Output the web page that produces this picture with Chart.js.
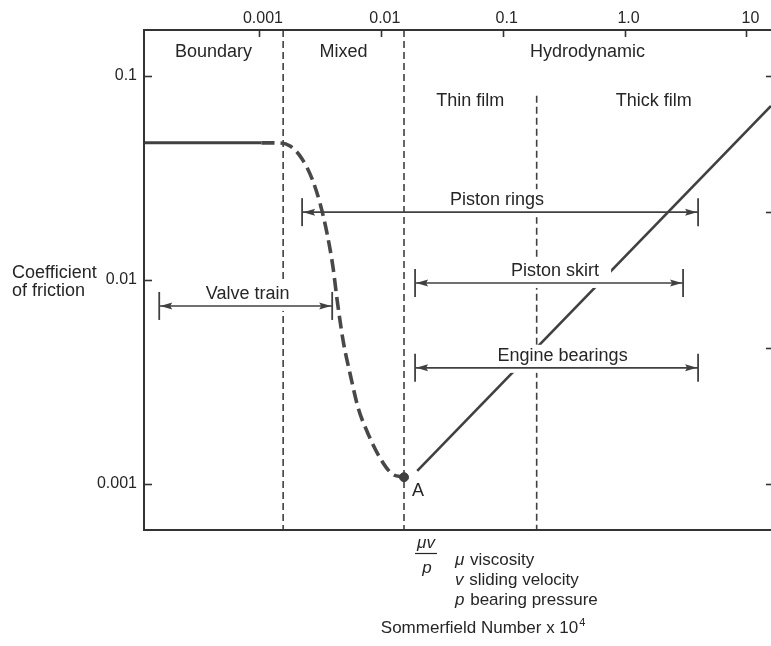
<!DOCTYPE html>
<html>
<head>
<meta charset="utf-8">
<title>Lubrication regimes - coefficient of friction vs Sommerfield number</title>
<script src="https://cdn.jsdelivr.net/npm/chart.js@4/dist/chart.umd.min.js"></script>
<style>
  html, body { margin: 0; padding: 0; background: #ffffff; overflow: hidden; }
  #wrap { width: 771px; height: 646px; position: relative; }
</style>
</head>
<body>
<div id="wrap"><canvas id="c" width="771" height="646"></canvas></div>
<script>
// ---- Axes: Sommerfield number (x 10^4) and coefficient of friction, both logarithmic
const xTickValues = [0.001, 0.01, 0.1, 1, 10];
const xTickLabels = ['0.001', '0.01', '0.1', '1.0', '10'];
const yTickValues = [0.001, 0.01, 0.1];
const yTickLabels = ['0.001', '0.01', '0.1'];
const yRightTickValues = [0.1, 0.0215, 0.00464, 0.001];
const xRange = [0.000114, 15.9];
const yRange = [0.000595, 0.168];

// ---- Friction curve
// boundary lubrication plateau
const boundaryX = [0.000114, 0.00105];
const boundaryY = [0.047, 0.047];
// mixed lubrication (dashed transition down to the minimum)
const mixedX = [0.00105, 0.00144, 0.0018, 0.00226, 0.00273, 0.00318, 0.00363, 0.00406, 0.00438, 0.00491, 0.0056, 0.00652, 0.00787, 0.00987, 0.0124, 0.0155];
const mixedY = [0.047, 0.047, 0.0454, 0.0392, 0.0313, 0.0236, 0.0168, 0.01145, 0.00798, 0.00502, 0.00346, 0.00236, 0.00176, 0.00134, 0.00112, 0.00108];
// minimum friction point A
const pointAX = [0.0155];
const pointAY = [0.00108];
// hydrodynamic branch
const hydroX = [0.0199, 15.9];
const hydroY = [0.00116, 0.0713];

// ---- Lubrication regimes
const regimeNames = ['Boundary', 'Mixed', 'Hydrodynamic'];
const regimeEdges = [0.00158, 0.0155];
const filmNames = ['Thin film', 'Thick film'];
const filmSplit = 0.19;
const filmSplitTop = 0.08;

// ---- Operating ranges of engine components
const rangeNames = ['Piston rings', 'Valve train', 'Piston skirt', 'Engine bearings'];
const rangeFrom = [0.00226, 0.000152, 0.0191, 0.0191];
const rangeTo = [4.01, 0.00399, 3.02, 4.01];
const rangeMu = [0.0215, 0.00746, 0.00967, 0.00371];

// ---- Styling
const FONT = "'Liberation Sans', Arial, Helvetica, sans-serif";
const INK = '#262626';
const LINE = '#404040';
const rangeLabelNudge = [-3, 2, 6, 6];   // horizontal tweak of each range caption, px

const pts = (xs, ys) => xs.map((x, i) => ({ x, y: ys[i] }));
const vline = (x, top, bottom) => [{ x, y: top }, { x, y: bottom }];

const dividerStyle = {
  borderColor: LINE, borderWidth: 1.6, borderDash: [7, 4],
  pointRadius: 0, showLine: true, fill: false, order: 30
};

const datasets = [
  Object.assign({ label: 'Boundary | Mixed', data: vline(regimeEdges[0], yRange[1], yRange[0]) }, dividerStyle),
  Object.assign({ label: 'Mixed | Hydrodynamic', data: vline(regimeEdges[1], yRange[1], yRange[0]) }, dividerStyle),
  Object.assign({ label: 'Thin | Thick film', data: vline(filmSplit, filmSplitTop, yRange[0]) }, dividerStyle),
  {
    label: 'Hydrodynamic', data: pts(hydroX, hydroY), showLine: true,
    borderColor: LINE, borderWidth: 2.6, pointRadius: 0, order: 20
  },
  {
    label: 'Boundary', data: pts(boundaryX, boundaryY), showLine: true,
    borderColor: LINE, borderWidth: 3, pointRadius: 0, order: 10, borderCapStyle: 'butt'
  },
  {
    label: 'Mixed', data: pts(mixedX, mixedY), showLine: true,
    borderColor: '#484848', borderWidth: 3.6, borderDash: [13, 6],
    cubicInterpolationMode: 'monotone', pointRadius: 0, order: 10
  },
  {
    label: 'A', data: pts(pointAX, pointAY), showLine: false,
    pointRadius: 4.5, pointBackgroundColor: LINE, pointBorderColor: LINE, order: 5
  }
];
const HYDRO_INDEX = 3;

rangeNames.forEach((name, i) => {
  datasets.push({
    label: name,
    data: [{ x: rangeFrom[i], y: rangeMu[i] }, { x: rangeTo[i], y: rangeMu[i] }],
    showLine: true, borderColor: LINE, borderWidth: 1.6,
    pointStyle: 'line', rotation: 90, pointRadius: 14,
    pointBorderColor: LINE, pointBorderWidth: 1.8, order: 0
  });
});

function setFont(ctx, size, italic) {
  ctx.font = (italic ? 'italic ' : '') + size + 'px ' + FONT;
}

// caption placement for the range bars
function rangeCaption(chart, i) {
  const { x, y } = chart.scales;
  const ctx = chart.ctx;
  setFont(ctx, 18, false);
  const mid = Math.sqrt(rangeFrom[i] * rangeTo[i]);
  const cx = x.getPixelForValue(mid) + rangeLabelNudge[i];
  const barY = y.getPixelForValue(rangeMu[i]);
  const w = ctx.measureText(rangeNames[i]).width;
  const base = barY - 7;
  return { cx, base, barY, w };
}

const lubricationDecor = {
  id: 'lubricationDecor',
  afterDatasetDraw(chart, args) {
    if (args.index !== HYDRO_INDEX) return;
    // white ground behind the range captions, cutting the lines drawn so far
    const ctx = chart.ctx;
    ctx.save();
    ctx.fillStyle = '#ffffff';
    rangeNames.forEach((_, i) => {
      const c = rangeCaption(chart, i);
      ctx.fillRect(c.cx - c.w / 2 - 5, c.base - 16, c.w + 17, c.barY + 5 - (c.base - 16));
    });
    ctx.restore();
  },
  afterDatasetsDraw(chart) {
    const ctx = chart.ctx;
    const { x, y } = chart.scales;
    const area = chart.chartArea;
    ctx.save();

    // arrowheads on the range bars
    ctx.fillStyle = LINE;
    rangeNames.forEach((_, i) => {
      const yy = y.getPixelForValue(rangeMu[i]);
      const xl = x.getPixelForValue(rangeFrom[i]) + 1;
      const xr = x.getPixelForValue(rangeTo[i]) - 1;
      ctx.beginPath();
      ctx.moveTo(xl, yy); ctx.lineTo(xl + 12, yy - 3.5); ctx.lineTo(xl + 10, yy); ctx.lineTo(xl + 12, yy + 3.5);
      ctx.closePath(); ctx.fill();
      ctx.beginPath();
      ctx.moveTo(xr, yy); ctx.lineTo(xr - 12, yy - 3.5); ctx.lineTo(xr - 10, yy); ctx.lineTo(xr - 12, yy + 3.5);
      ctx.closePath(); ctx.fill();
    });

    // range captions
    ctx.fillStyle = INK;
    ctx.textBaseline = 'alphabetic';
    ctx.textAlign = 'center';
    rangeNames.forEach((name, i) => {
      const c = rangeCaption(chart, i);
      ctx.fillText(name, c.cx, c.base);
    });

    // regime captions
    setFont(ctx, 18, false);
    const bounds = [xRange[0], regimeEdges[0], regimeEdges[1], xRange[1]];
    regimeNames.forEach((name, i) => {
      const cx = x.getPixelForValue(Math.sqrt(bounds[i] * bounds[i + 1]));
      ctx.fillText(name, cx, area.top + 27);
    });
    const filmBounds = [regimeEdges[1], filmSplit, xRange[1]];
    filmNames.forEach((name, i) => {
      const cx = x.getPixelForValue(Math.sqrt(filmBounds[i] * filmBounds[i + 1]));
      ctx.fillText(name, cx, area.top + 76);
    });

    // point A
    ctx.textAlign = 'left';
    ctx.fillText('A', x.getPixelForValue(pointAX[0]) + 8, y.getPixelForValue(pointAY[0]) + 19);

    // axis title on the left
    ctx.fillText('Coefficient', 12, y.getPixelForValue(0.01) - 2);
    ctx.fillText('of friction', 12, y.getPixelForValue(0.01) + 16);

    // Sommerfield group  mu v / p  with its key
    const fx = x.getPixelForValue(regimeEdges[1]) + 22;
    const fy = area.bottom;
    ctx.textAlign = 'center';
    setFont(ctx, 17, true);
    ctx.fillText('\u03bcv', fx, fy + 18);
    ctx.fillText('p', fx + 1, fy + 43);
    ctx.strokeStyle = INK;
    ctx.lineWidth = 1.2;
    ctx.beginPath(); ctx.moveTo(fx - 11, fy + 23.5); ctx.lineTo(fx + 11, fy + 23.5); ctx.stroke();

    const key = [['\u03bc', 'viscosity'], ['v', 'sliding velocity'], ['p', 'bearing pressure']];
    ctx.textAlign = 'left';
    key.forEach((k, i) => {
      const kx = fx + 29, ky = fy + 35 + i * 20;
      setFont(ctx, 17, true);
      ctx.fillText(k[0], kx, ky);
      const sw = ctx.measureText(k[0] + ' ').width;
      setFont(ctx, 17, false);
      ctx.fillText(k[1], kx + sw + 1, ky);
    });

    setFont(ctx, 17, false);
    const title = 'Sommerfield Number x 10';
    const tx = x.getPixelForValue(0.01);
    ctx.fillText(title, tx, fy + 103);
    const tw = ctx.measureText(title).width;
    setFont(ctx, 11, false);
    ctx.fillText('4', tx + tw + 1, fy + 96);

    // inward tick marks
    ctx.strokeStyle = '#333333';
    ctx.lineWidth = 1.6;
    xTickValues.forEach(v => {
      const px = Math.round(x.getPixelForValue(v)) + 0.5;
      ctx.beginPath(); ctx.moveTo(px, area.top); ctx.lineTo(px, area.top + 7); ctx.stroke();
    });
    yTickValues.forEach(v => {
      const py = Math.round(y.getPixelForValue(v)) + 0.5;
      ctx.beginPath(); ctx.moveTo(area.left, py); ctx.lineTo(area.left + 8, py); ctx.stroke();
    });
    yRightTickValues.forEach(v => {
      const py = Math.round(y.getPixelForValue(v)) + 0.5;
      ctx.beginPath(); ctx.moveTo(area.right - 5, py); ctx.lineTo(area.right, py); ctx.stroke();
    });

    // frame: left, top and bottom edges
    ctx.lineWidth = 2;
    ctx.beginPath();
    ctx.moveTo(area.right, area.top);
    ctx.lineTo(area.left, area.top);
    ctx.lineTo(area.left, area.bottom);
    ctx.lineTo(area.right, area.bottom);
    ctx.stroke();
    ctx.restore();
  }
};

Chart.defaults.font.family = FONT;
Chart.defaults.color = INK;

new Chart(document.getElementById('c'), {
  type: 'scatter',
  data: { datasets },
  plugins: [lubricationDecor],
  options: {
    responsive: false,
    animation: false,
    devicePixelRatio: 1,
    layout: { autoPadding: false, padding: { top: 0, left: 0, right: 0, bottom: 116 } },
    plugins: { legend: { display: false }, tooltip: { enabled: false } },
    scales: {
      x: {
        type: 'logarithmic', position: 'top', bounds: 'data',
        min: xRange[0], max: xRange[1],
        grid: { display: false, drawTicks: false },
        border: { display: false },
        afterBuildTicks: s => { s.ticks = xTickValues.map(v => ({ value: v })); },
        afterFit: s => { s.height = 30; s.paddingLeft = 0; s.paddingRight = 0; },
        ticks: {
          autoSkip: false, maxRotation: 0, padding: 2, labelOffset: 4,
          font: { size: 16 }, color: INK,
          callback: v => { const i = xTickValues.indexOf(v); return i >= 0 ? xTickLabels[i] : ''; }
        }
      },
      y: {
        type: 'logarithmic', position: 'left', bounds: 'data',
        min: yRange[0], max: yRange[1],
        grid: { display: false, drawTicks: false },
        border: { display: false },
        afterBuildTicks: s => { s.ticks = yTickValues.map(v => ({ value: v })); },
        afterFit: s => { s.width = 144; s.paddingTop = 0; s.paddingBottom = 0; },
        ticks: {
          autoSkip: false, padding: 7,
          font: { size: 16 }, color: INK,
          callback: v => { const i = yTickValues.indexOf(v); return i >= 0 ? yTickLabels[i] : ''; }
        }
      }
    }
  }
});
</script>
</body>
</html>
